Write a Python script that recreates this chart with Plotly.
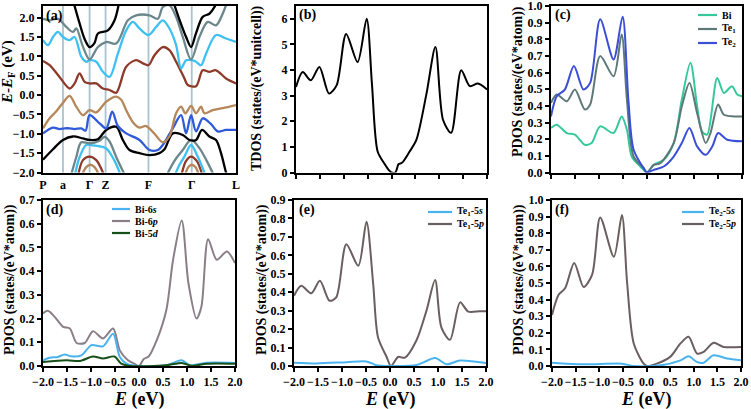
import plotly.graph_objects as go

W, H = 751, 409
FONT = "Liberation Serif"

# ---------------- (a) band structure ----------------
kpath_pos = [0, 60, 140, 188, 317, 447, 580]
kpath_lbl = ["P", "a", "Γ", "Z", "F", "Γ", "L"]

band_tan_k = [0, 20, 40, 60, 80, 100, 120, 140, 160, 190, 220, 235, 250, 270, 290, 310, 335, 360, 380, 400, 415, 428, 445, 460, 475, 485, 510, 540, 580]
band_tan_E = [-0.86, -0.6, -0.42, -0.2, -0.02, -0.3, -0.52, -0.39, -0.45, -0.17, -0.04, -0.12, -0.39, -0.7, -0.84, -0.8, -1.0, -1.22, -1.07, -0.47, -0.30, -0.47, -0.28, -0.47, -0.30, -0.47, -0.39, -0.34, -0.26]

band_blue_k = [0, 30, 50, 65, 80, 95, 115, 128, 140, 170, 190, 208, 225, 250, 290, 320, 345, 360, 390, 415, 430, 445, 460, 480, 505, 525, 550, 580]
band_blue_E = [-0.99, -0.84, -0.88, -0.86, -0.86, -0.88, -0.86, -0.92, -0.52, -0.73, -0.86, -0.43, -0.8, -0.99, -1.16, -1.42, -1.42, -1.29, -0.86, -0.52, -0.99, -0.52, -0.94, -0.60, -0.75, -0.94, -0.9, -0.9]

band_black1_k = [0, 30, 60, 90, 120, 140, 165, 190, 220, 240, 260, 290, 320, 350, 365, 390, 420, 440, 460, 478, 500, 520, 535, 550, 565]
band_black1_E = [-1.67, -1.4, -1.16, -1.07, -1.12, -1.16, -1.14, -0.9, -0.82, -1.16, -1.42, -1.5, -1.55, -1.5, -1.4, -0.99, -1.03, -1.16, -1.16, -0.9, -1.07, -1.16, -1.5, -2.0, -2.4]

band_brown_k = [0, 20, 45, 80, 95, 110, 125, 140, 160, 180, 200, 220, 250, 280, 300, 317, 335, 360, 380, 400, 425, 435, 460, 480, 500, 520, 550, 580]
band_brown_E = [0.88, 0.77, 0.52, 0.17, 0.30, 0.56, 0.34, 0.30, 0.30, 0.17, 0.13, 0.06, 0.73, 0.90, 0.82, 0.77, 1.03, 1.24, 1.16, 0.86, 0.43, 0.26, 0.23, 0.64, 0.60, 0.64, 0.43, 0.30]

band_lblue_k = [0, 15, 30, 45, 60, 80, 95, 115, 130, 140, 160, 180, 200, 225, 250, 270, 290, 317, 340, 360, 380, 400, 415, 430, 447, 460, 475, 490, 520, 550, 580]
band_lblue_E = [1.42, 1.29, 1.50, 1.63, 1.50, 1.42, 1.50, 0.99, 0.86, 0.90, 0.86, 0.60, 0.47, 1.07, 1.67, 1.89, 1.72, 1.55, 1.76, 1.93, 1.72, 1.29, 0.69, 0.90, 0.90, 0.86, 0.77, 1.07, 1.55, 1.46, 1.37]

band_gray_k = [0, 20, 45, 70, 90, 100, 120, 140, 165, 190, 220, 255, 280, 320, 345, 360, 380, 400, 420, 445, 470, 495, 520, 540, 555]
band_gray_E = [1.97, 1.93, 1.97, 1.76, 1.63, 1.72, 1.25, 0.92, 1.24, 1.37, 1.33, 1.93, 2.06, 2.06, 1.97, 2.27, 2.32, 2.02, 1.5, 0.92, 1.5, 1.89, 1.80, 2.1, 2.45]

band_black2a_k = [90, 110, 125, 140, 155, 165, 195, 215, 230]
band_black2a_E = [2.45, 1.85, 1.45, 1.24, 1.35, 1.59, 1.67, 1.93, 2.45]
band_black2b_k = [390, 410, 430, 445, 460, 480, 500, 515, 525]
band_black2b_E = [2.45, 1.95, 1.5, 1.24, 1.6, 2.02, 2.1, 2.27, 2.45]

low_gray1_k = [85, 100, 115, 140, 170, 185, 200, 220, 245]
low_gray1_E = [-2.05, -1.6, -1.22, -1.25, -1.18, -1.08, -1.2, -1.6, -2.05]
low_lblue1_k = [95, 110, 130, 150, 190, 215, 235]
low_lblue1_E = [-2.1, -1.6, -1.29, -1.3, -1.38, -1.7, -2.1]
low_brown1_k = [105, 120, 140, 160, 185]
low_brown1_E = [-2.1, -1.68, -1.59, -1.68, -2.1]
low_tan1_k = [115, 130, 142, 155, 170]
low_tan1_E = [-2.1, -1.86, -1.8, -1.86, -2.1]

low_gray2_k = [370, 395, 420, 445, 470, 492, 515]
low_gray2_E = [-2.1, -1.7, -1.42, -1.16, -1.37, -1.7, -2.1]
low_lblue2_k = [395, 410, 425, 445, 465, 478, 490]
low_lblue2_E = [-2.1, -1.8, -1.59, -1.29, -1.59, -1.85, -2.1]
low_brown2_k = [415, 430, 445, 462, 480]
low_brown2_E = [-2.1, -1.7, -1.59, -1.7, -2.1]
low_tan2_k = [425, 437, 447, 458, 470]
low_tan2_E = [-2.1, -1.86, -1.8, -1.86, -2.1]

C_BLACK, C_GRAY, C_LBLUE = "#000000", "#6b878c", "#3ec0f0"
C_BROWN, C_TAN, C_BLUE = "#8e3a2a", "#b5875a", "#2f5ad8"

bands = [
    (low_tan1_k, low_tan1_E, C_TAN), (low_brown1_k, low_brown1_E, C_BROWN),
    (low_lblue1_k, low_lblue1_E, C_LBLUE), (low_gray1_k, low_gray1_E, C_GRAY),
    (low_tan2_k, low_tan2_E, C_TAN), (low_brown2_k, low_brown2_E, C_BROWN),
    (low_lblue2_k, low_lblue2_E, C_LBLUE), (low_gray2_k, low_gray2_E, C_GRAY),
    (band_black1_k, band_black1_E, C_BLACK), (band_blue_k, band_blue_E, C_BLUE),
    (band_tan_k, band_tan_E, C_TAN), (band_brown_k, band_brown_E, C_BROWN),
    (band_lblue_k, band_lblue_E, C_LBLUE), (band_gray_k, band_gray_E, C_GRAY),
    (band_black2a_k, band_black2a_E, C_BLACK), (band_black2b_k, band_black2b_E, C_BLACK),
]

# ---------------- (b) TDOS ----------------
tdos_E = [-2.0, -1.86, -1.69, -1.51, -1.31, -1.15, -0.95, -0.71, -0.52, -0.41, -0.29, -0.15, -0.05, 0.0, 0.08, 0.15, 0.22, 0.38, 0.52, 0.73, 0.92, 1.08, 1.25, 1.46, 1.64, 1.81, 2.0]
tdos_v = [3.34, 3.92, 3.60, 4.12, 3.08, 3.40, 5.41, 4.31, 6.0, 3.47, 0.82, 0.35, 0.08, 0.0, 0.0, 0.33, 0.38, 0.82, 1.27, 3.05, 4.9, 2.05, 1.55, 3.99, 3.37, 3.47, 3.24]

# ---------------- (c) PDOS by atom ----------------
bi_E = [-2.0, -1.88, -1.67, -1.50, -1.29, -1.15, -0.97, -0.69, -0.52, -0.41, -0.31, -0.13, 0.01, 0.15, 0.36, 0.57, 0.74, 0.92, 1.06, 1.16, 1.27, 1.48, 1.62, 1.79, 1.90, 2.0]
bi_v = [0.267, 0.287, 0.237, 0.227, 0.167, 0.177, 0.277, 0.237, 0.337, 0.257, 0.096, 0.036, 0.0, 0.046, 0.076, 0.177, 0.438, 0.659, 0.398, 0.247, 0.227, 0.568, 0.478, 0.518, 0.468, 0.458]
te1_E = [-2.0, -1.88, -1.67, -1.50, -1.29, -1.18, -0.97, -0.69, -0.52, -0.41, -0.27, -0.06, 0.01, 0.15, 0.29, 0.57, 0.74, 0.90, 1.06, 1.24, 1.34, 1.50, 1.62, 1.83, 2.0]
te1_v = [0.418, 0.468, 0.428, 0.498, 0.378, 0.408, 0.699, 0.578, 0.829, 0.438, 0.096, 0.026, 0.0, 0.046, 0.056, 0.177, 0.398, 0.538, 0.357, 0.177, 0.237, 0.408, 0.347, 0.337, 0.337]
te2_E = [-2.0, -1.88, -1.71, -1.52, -1.32, -1.18, -0.97, -0.69, -0.50, -0.38, -0.27, -0.06, 0.01, 0.15, 0.36, 0.57, 0.74, 0.90, 1.06, 1.24, 1.38, 1.50, 1.69, 2.0]
te2_v = [0.337, 0.458, 0.498, 0.639, 0.498, 0.538, 0.920, 0.679, 0.936, 0.438, 0.137, 0.026, 0.0, 0.016, 0.036, 0.096, 0.177, 0.267, 0.157, 0.106, 0.157, 0.237, 0.197, 0.187]

# ---------------- (d) Bi orbitals ----------------
bi6p_E = [-2.0, -1.90, -1.76, -1.58, -1.44, -1.30, -1.13, -0.96, -0.75, -0.54, -0.40, -0.23, -0.10, 0.0, 0.10, 0.20, 0.37, 0.57, 0.71, 0.89, 1.03, 1.20, 1.30, 1.44, 1.62, 1.83, 2.0]
bi6p_v = [0.222, 0.233, 0.208, 0.165, 0.158, 0.097, 0.097, 0.147, 0.116, 0.158, 0.066, 0.024, 0.01, 0.0, 0.03, 0.04, 0.109, 0.236, 0.448, 0.614, 0.349, 0.2, 0.25, 0.535, 0.448, 0.483, 0.434]
bi6s_E = [-2.0, -1.86, -1.69, -1.55, -1.41, -1.20, -0.99, -0.75, -0.54, -0.40, -0.26, -0.05, 0.57, 0.89, 1.06, 1.41, 2.0]
bi6s_v = [0.024, 0.035, 0.038, 0.049, 0.041, 0.045, 0.088, 0.083, 0.136, 0.038, 0.01, 0.0, 0.003, 0.024, 0.003, 0.014, 0.013]
bi5d_E = [-2.0, -1.51, -1.23, -0.96, -0.75, -0.51, -0.37, -0.19, 0.57, 0.89, 1.10, 1.41, 2.0]
bi5d_v = [0.017, 0.024, 0.021, 0.04, 0.032, 0.04, 0.01, 0.0, 0.003, 0.013, 0.001, 0.01, 0.01]

# ---------------- (e) Te1 orbitals ----------------
te15p_E = [-2.0, -1.85, -1.64, -1.46, -1.26, -1.12, -0.91, -0.66, -0.49, -0.35, -0.25, -0.07, 0.02, 0.17, 0.31, 0.55, 0.76, 0.94, 1.07, 1.25, 1.46, 1.63, 1.87, 2.0]
te15p_v = [0.381, 0.435, 0.394, 0.462, 0.354, 0.372, 0.660, 0.543, 0.782, 0.444, 0.156, 0.049, 0.0, 0.049, 0.045, 0.138, 0.300, 0.466, 0.210, 0.142, 0.345, 0.295, 0.297, 0.297]
te15s_E = [-2.0, -1.53, -0.91, -0.49, -0.28, 0.0, 0.55, 0.94, 1.18, 1.46, 2.0]
te15s_v = [0.018, 0.014, 0.021, 0.025, 0.004, 0.0, 0.005, 0.043, 0.009, 0.03, 0.016]

# ---------------- (f) Te2 orbitals ----------------
te25p_E = [-2.0, -1.86, -1.72, -1.53, -1.33, -1.15, -0.98, -0.69, -0.52, -0.41, -0.27, -0.06, 0.01, 0.22, 0.50, 0.72, 0.89, 1.07, 1.21, 1.42, 1.63, 2.0]
te25p_v = [0.308, 0.429, 0.470, 0.621, 0.476, 0.551, 0.895, 0.658, 0.909, 0.5, 0.136, 0.014, 0.0, 0.014, 0.055, 0.136, 0.176, 0.075, 0.085, 0.140, 0.115, 0.115]
te25s_E = [-2.0, -1.33, -0.52, -0.27, 0.3, 0.72, 0.89, 1.07, 1.21, 1.42, 1.7, 2.0]
te25s_v = [0.02, 0.01, 0.014, 0.0, 0.004, 0.034, 0.058, 0.024, 0.02, 0.065, 0.045, 0.035]

E_ticks = [-2.0, -1.5, -1.0, -0.5, 0.0, 0.5, 1.0, 1.5, 2.0]


def px(x):
    return x / W


def py(y):
    return 1 - y / H


fig = go.Figure()

for kk, ee, col in bands:
    fig.add_trace(go.Scatter(x=kk, y=ee, mode="lines", xaxis="x", yaxis="y",
                             line=dict(color=col, width=2.3, shape="spline", smoothing=0.9),
                             showlegend=False, hoverinfo="skip"))

LW = 2.0


def dos(x, y, ax, col):
    fig.add_trace(go.Scatter(x=x, y=y, mode="lines", xaxis="x" + ax, yaxis="y" + ax,
                             line=dict(color=col, width=LW, shape="spline", smoothing=0.8),
                             showlegend=False, hoverinfo="skip"))


dos(tdos_E, tdos_v, "2", "#000000")
C_BI, C_TE1, C_TE2 = "#35c89a", "#5e7878", "#3a4ed6"
dos(bi_E, bi_v, "3", C_BI)
dos(te1_E, te1_v, "3", C_TE1)
dos(te2_E, te2_v, "3", C_TE2)
C_S, C_P, C_D = "#4ab3ee", "#8a7f87", "#17501a"
dos(bi6p_E, bi6p_v, "4", C_P)
dos(bi6s_E, bi6s_v, "4", C_S)
dos(bi5d_E, bi5d_v, "4", C_D)
C_P2 = "#6b5e60"
dos(te15p_E, te15p_v, "5", C_P2)
dos(te15s_E, te15s_v, "5", C_S)
dos(te25p_E, te25p_v, "6", C_P2)
dos(te25s_E, te25s_v, "6", C_S)

doms = {
    "": ((43, 236), (6, 172.5)),
    "2": ((296, 487), (6, 172.5)),
    "3": ((551, 742), (6, 172.5)),
    "4": ((43, 235), (200, 366)),
    "5": ((294, 486), (200, 366)),
    "6": ((552, 741), (200, 366)),
}
yranges = {"": [-2.0, 2.3], "2": [0, 6.5], "3": [0, 1.0], "4": [0, 0.7], "5": [0, 0.9], "6": [0, 1.0]}
ydt = {"": 0.5, "2": 1, "3": 0.1, "4": 0.1, "5": 0.1, "6": 0.1}
yfmt = {"": ".1f", "2": "d", "3": ".1f", "4": ".1f", "5": ".1f", "6": ".1f"}

tickfont = dict(family=FONT, size=12, color="#000", weight="bold")
layout = {}
for k, ((x0, x1), (y0, y1)) in doms.items():
    xa = dict(domain=[px(x0), px(x1)], anchor="y" + k, showline=True, mirror=True,
              linewidth=2, linecolor="#000", showgrid=False, zeroline=False,
              ticks="outside", ticklen=4, tickwidth=1.5, tickcolor="#000", tickangle=0,
              tickfont=tickfont, automargin=False, fixedrange=True)
    if k == "":
        xa.update(range=[0, 580], tickvals=kpath_pos, ticktext=kpath_lbl, ticks="")
    else:
        xa.update(range=[-2, 2], tickvals=E_ticks, tickformat=".1f")
        if k in ("2", "3"):
            xa.update(showticklabels=False)
    ya = dict(domain=[py(y1), py(y0)], anchor="x" + k, showline=True, mirror=True,
              linewidth=2, linecolor="#000", showgrid=False, zeroline=False,
              range=yranges[k], dtick=ydt[k], tick0=0, tickformat=yfmt[k],
              ticks="outside", ticklen=4, tickwidth=1.5, tickcolor="#000", tickangle=0,
              tickfont=tickfont, automargin=False, fixedrange=True)
    layout["xaxis" + k] = xa
    layout["yaxis" + k] = ya

shapes = []
for kv in kpath_pos[1:-1]:
    shapes.append(dict(type="line", xref="x", yref="y domain", x0=kv, x1=kv, y0=0, y1=1,
                       line=dict(color="#a9c3cf", width=1.8), layer="below"))

annotations = []


def txt(x, y, s, size=12, angle=0, xanchor="left"):
    annotations.append(dict(xref="paper", yref="paper", x=px(x), y=py(y), text=s,
                            showarrow=False, textangle=angle, xanchor=xanchor, yanchor="middle",
                            font=dict(family=FONT, size=size, color="#000", weight="bold")))


for lbl, (x, y) in zip(["(a)", "(b)", "(c)", "(d)", "(e)", "(f)"],
                       [(44, 16), (297, 15), (553, 15), (44, 210), (297, 210), (553, 210)]):
    txt(x, y, lbl, size=14)

txt(8, 72, "<i>E</i>-<i>E</i><sub>F</sub> (eV)", size=15, angle=-90, xanchor="center")
txt(257, 88, "TDOS (states/(eV*unitcell))", size=14, angle=-90, xanchor="center")
txt(518, 82, "PDOS (states/(eV*atom))", size=14, angle=-90, xanchor="center")
txt(10, 280, "PDOS (states/(eV*atom))", size=14, angle=-90, xanchor="center")
txt(262, 280, "PDOS (states/(eV*atom))", size=14, angle=-90, xanchor="center")
txt(519, 280, "PDOS (states/(eV*atom))", size=14, angle=-90, xanchor="center")

for xc in [(43 + 235) / 2, (294 + 486) / 2, (552 + 741) / 2]:
    txt(xc, 399, "<i>E</i> (eV)", size=18, xanchor="center")

legends = [
    (698, 717, [(15, "Bi", C_BI), (29, "Te<sub>1</sub>", C_TE1), (43, "Te<sub>2</sub>", C_TE2)]),
    (112, 130, [(209, "Bi-6<i>s</i>", C_S), (221, "Bi-6<i>p</i>", C_P), (233, "Bi-5<i>d</i>", C_D)]),
    (428, 452, [(212, "Te<sub>1</sub>-5<i>s</i>", C_S), (224, "Te<sub>1</sub>-5<i>p</i>", C_P2)]),
    (682, 704, [(212, "Te<sub>2</sub>-5<i>s</i>", C_S), (224, "Te<sub>2</sub>-5<i>p</i>", C_P2)]),
]
for lx0, lx1, items in legends:
    for yy, s, col in items:
        shapes.append(dict(type="line", xref="paper", yref="paper", x0=px(lx0), x1=px(lx1),
                           y0=py(yy), y1=py(yy), line=dict(color=col, width=2.2)))
        txt(lx1 + 3, yy, s, size=10)

fig.update_layout(**layout)
fig.update_layout(width=W, height=H, margin=dict(l=0, r=0, t=0, b=0),
                  paper_bgcolor="white", plot_bgcolor="white", template="none",
                  shapes=shapes, annotations=annotations, showlegend=False,
                  font=dict(family=FONT, color="#000"))
fig.write_html("out.html", config={"displayModeBar": False})
